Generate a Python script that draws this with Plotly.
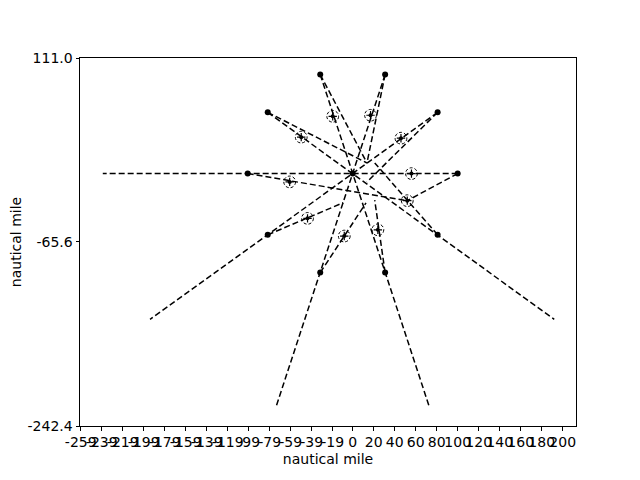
import plotly.graph_objects as go

# ---- data (nautical miles) ----
# stations on the 100 nm ring (plus the centre)
dot_x = [100.0, 80.9, 30.9, -30.9, -80.9, -100.0, -80.9, -30.9, 30.9, 80.9, 0.0]
dot_y = [0.0, 58.8, 95.1, 95.1, 58.8, 0.0, -58.8, -95.1, -95.1, -58.8, 0.0]

# long lines through the centre: start point -> far end
spoke_x0 = [100.0, 80.9, 30.9, -30.9, -80.9]
spoke_y0 = [0.0, 58.8, 95.1, 95.1, 58.8]
spoke_x1 = [-238.0, -193.0, -73.0, 73.0, 192.0]
spoke_y1 = [0.0, -140.0, -224.0, -224.0, -140.0]

# estimated positions (circled crosses)
est_x = [56.0, 46.0, 17.0, -19.0, -49.0, -60.0, -43.0, -8.0, 24.0, 52.0]
est_y = [0.0, 34.0, 56.0, 55.0, 35.0, -8.0, -43.0, -60.0, -54.0, -26.0]

# secondary lines: start -> end
sec_x0 = [-30.9, 30.9, -80.9, 80.9, 100.0, 80.9, 30.9, -30.9, -80.9, -100.0]
sec_y0 = [95.1, 95.1, 58.8, 58.8, 0.0, -58.8, -95.1, -95.1, -58.8, 0.0]
sec_x1 = [13.6, 13.6, 13.6, 13.6, 52.0, 21.0, 21.0, 12.7, -9.0, 52.0]
sec_y1 = [10.2, 10.2, 10.2, -8.1, -26.0, 10.2, -25.5, -28.2, -28.0, -26.0]

x_tickvals = [-259, -239, -219, -199, -179, -159, -139, -119, -99, -79, -59, -39, -19,
              0, 20, 40, 60, 80, 100, 120, 140, 160, 180, 200]
y_tickvals = [-242.4, -65.6, 111.0]
y_ticktext = ["-242.4", "-65.6", "111.0"]

x_range = [-259.7, 212.7]
y_range = [-242.4, 111.0]

DASH = "6px,3px"
fig = go.Figure()

for x0, y0, x1, y1 in zip(spoke_x0, spoke_y0, spoke_x1, spoke_y1):
    fig.add_trace(go.Scatter(x=[x0, 0.0, x1], y=[y0, 0.0, y1], mode="lines",
                             line=dict(color="black", width=1.5, dash=DASH),
                             showlegend=False, hoverinfo="skip"))

for x0, y0, x1, y1 in zip(sec_x0, sec_y0, sec_x1, sec_y1):
    fig.add_trace(go.Scatter(x=[x0, x1], y=[y0, y1], mode="lines",
                             line=dict(color="black", width=1.5, dash=DASH),
                             showlegend=False, hoverinfo="skip"))

fig.add_trace(go.Scatter(x=dot_x, y=dot_y, mode="markers",
                         marker=dict(color="black", size=6),
                         showlegend=False, hoverinfo="skip"))

fig.add_trace(go.Scatter(x=est_x, y=est_y, mode="markers",
                         marker=dict(symbol="cross-thin-open", size=6, color="black",
                                     line=dict(color="black", width=1.2)),
                         showlegend=False, hoverinfo="skip"))
fig.add_trace(go.Scatter(x=est_x, y=est_y, mode="markers",
                         marker=dict(color="black", size=4),
                         showlegend=False, hoverinfo="skip"))

R = 5.6
for ex, ey in zip(est_x, est_y):
    fig.add_shape(type="circle", xref="x", yref="y",
                  x0=ex - R, x1=ex + R, y0=ey - R, y1=ey + R,
                  line=dict(color="black", width=1, dash="3px,2px"))

axis_common = dict(showline=True, linecolor="black", linewidth=1, mirror=True,
                   ticks="outside", ticklen=3.5, tickwidth=1, tickcolor="black",
                   showgrid=False, zeroline=False, automargin=False,
                   tickfont=dict(family="DejaVu Sans", size=14, color="black"))

fig.update_xaxes(range=x_range, tickmode="array", tickvals=x_tickvals,
                 ticktext=[str(v) for v in x_tickvals], tickangle=0,
                 title=dict(text="nautical mile", standoff=4,
                            font=dict(family="DejaVu Sans", size=14, color="black")),
                 **axis_common)
fig.update_yaxes(range=y_range, tickmode="array", tickvals=y_tickvals,
                 ticktext=y_ticktext,
                 title=dict(text="nautical mile", standoff=20,
                            font=dict(family="DejaVu Sans", size=14, color="black")),
                 **axis_common)

fig.update_layout(width=640, height=480, autosize=False,
                  margin=dict(l=72, r=72, t=50, b=62),
                  plot_bgcolor="white", paper_bgcolor="white")

fig.write_html("out.html")
